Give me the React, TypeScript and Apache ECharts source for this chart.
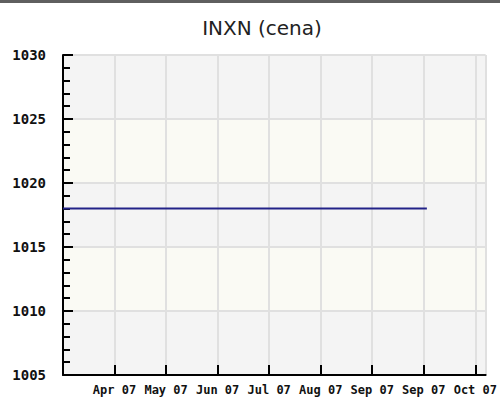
import React, { useEffect, useRef } from "react";
import * as echarts from "echarts";

const titleText = "INXN (cena)";
const tickLabels = ["Apr 07", "May 07", "Jun 07", "Jul 07", "Aug 07", "Sep 07", "Sep 07", "Oct 07"];
const periods = [0, 7.06];
const prices = [1018, 1018];

export default function App() {
  const ref = useRef<HTMLDivElement>(null);
  useEffect(() => {
    if (!ref.current) return;
    const chart = echarts.init(ref.current, null, { renderer: "svg" });
    chart.setOption({
      animation: false,
      backgroundColor: "#ffffff",
      graphic: [
        { type: "rect", left: 0, top: 0, shape: { width: 500, height: 3 }, style: { fill: "#5f5f5f" } },
      ],
      title: {
        text: titleText,
        left: 257,
        top: 13,
        textAlign: "center",
        textStyle: { fontFamily: "DejaVu Sans", fontSize: 20, fontWeight: "normal", color: "#222" },
      },
      grid: { left: 63, right: 13, top: 55, bottom: 25, containLabel: false },
      xAxis: {
        type: "value",
        min: 0,
        max: 8.2,
        interval: 1,
        axisLine: { show: true, onZero: false, lineStyle: { color: "#000", width: 2 } },
        axisTick: { show: true, inside: true, length: 10, lineStyle: { color: "#000", width: 2 } },
        axisLabel: {
          margin: 9,
          fontFamily: "DejaVu Sans Mono",
          fontSize: 12,
          fontWeight: "bold",
          color: "#111",
          showMinLabel: false,
          formatter: (v: number) => (v >= 1 ? tickLabels[Math.round(v) - 1] ?? "" : ""),
        },
        splitLine: { show: true, lineStyle: { color: "#e0e0e0", width: 2 } },
      },
      yAxis: {
        type: "value",
        min: 1005,
        max: 1030,
        interval: 5,
        axisLine: { show: true, lineStyle: { color: "#000", width: 2 } },
        axisTick: { show: true, inside: true, length: 10, lineStyle: { color: "#000", width: 2 } },
        minorTick: { show: true, splitNumber: 5, length: 7, lineStyle: { color: "#000", width: 2 } },
        axisLabel: {
          margin: 17,
          fontFamily: "DejaVu Sans Mono",
          fontSize: 14,
          fontWeight: "bold",
          color: "#111",
          formatter: (v: number) => String(v),
        },
        splitLine: { show: true, lineStyle: { color: "#e0e0e0", width: 2 } },
        splitArea: { show: true, areaStyle: { color: ["#f4f4f4", "#fafaf4"] } },
      },
      series: [
        {
          type: "line",
          data: periods.map((p, i) => [p, prices[i]]),
          showSymbol: false,
          lineStyle: { color: "#222288", width: 2 },
        },
      ],
    });
    return () => chart.dispose();
  }, []);
  return <div ref={ref} style={{ position: "fixed", left: 0, top: 0, width: 500, height: 400 }} />;
}
